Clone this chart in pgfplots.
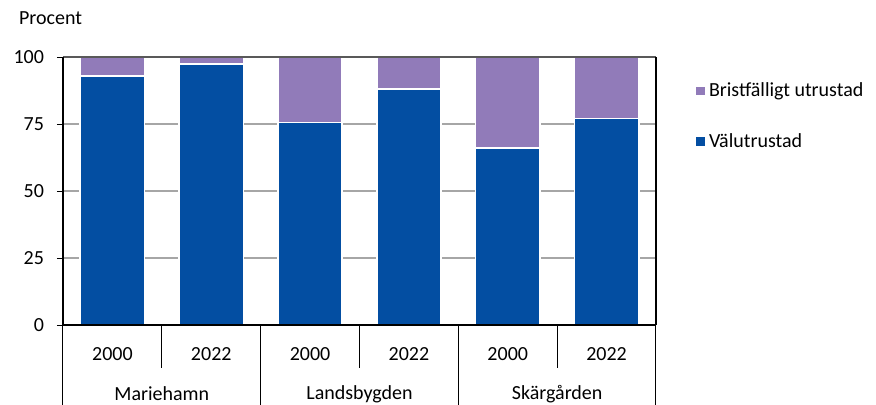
\documentclass[border=0pt]{standalone}
\usepackage{fontspec}
\setmainfont{Carlito}
\usepackage{pgfplots}
\pgfplotsset{compat=1.18}
\definecolor{valu}{HTML}{034EA2}
\definecolor{brist}{HTML}{917BB9}
\definecolor{gridg}{HTML}{A6A6A6}
\definecolor{topg}{HTML}{595959}
\begin{document}
\fontsize{10pt}{12pt}\selectfont
\begin{tikzpicture}
\begin{axis}[
  at={(0,0)}, anchor=south west,
  scale only axis, width=296.5pt, height=134pt,
  ybar stacked, bar width=0.65,
  xmin=-0.5, xmax=5.5, ymin=0, ymax=100,
  xtick={0,1,2,3,4,5},
  xticklabels={2000,2022,2000,2022,2000,2022},
  x tick style={draw=none},
  ytick={0,25,50,75,100}, ytick pos=left,
  ymajorgrids, grid style={gridg, line width=0.6pt},
  y tick style={black, line width=0.5pt},
  tick align=outside, major tick length=3pt,
  axis line style={draw=none},
  clip=false,
  /pgf/number format/assume math mode=true,
  ticklabel style={font=\fontsize{10pt}{12pt}\selectfont},
  xticklabel style={anchor=center, yshift=-11.5pt},
  yticklabel style={anchor=east, xshift=-3pt},
  legend style={at={(1.057,0.936)}, anchor=north west, draw=none, fill=none,
    font=\fontsize{10pt}{12pt}\selectfont, row sep=13pt},
  legend cell align=left,
  reverse legend,
  legend image code/.code={\draw[#1, draw=none] (0pt,-2.2pt) rectangle (4.4pt,2.2pt);},
  after end axis/.code={
    % axis frame
    \draw[topg, line width=0.8pt] (axis cs:-0.5,100) -- (axis cs:5.5,100);
    \draw[black, line width=0.6pt] (axis cs:-0.5,0) -- (axis cs:-0.5,100);
    \draw[black, line width=0.6pt] (axis cs:5.5,0) -- (axis cs:5.5,100);
    \draw[black, line width=0.6pt] (axis cs:-0.5,0) -- (axis cs:5.5,0);
    % category separators
    \draw[black, line width=0.5pt] (axis cs:-0.5,0) -- ([yshift=-45pt]axis cs:-0.5,0);
    \draw[black, line width=0.5pt] (axis cs:1.5,0) -- ([yshift=-45pt]axis cs:1.5,0);
    \draw[black, line width=0.5pt] (axis cs:3.5,0) -- ([yshift=-45pt]axis cs:3.5,0);
    \draw[black, line width=0.5pt] (axis cs:5.5,0) -- ([yshift=-45pt]axis cs:5.5,0);
    \draw[black, line width=0.5pt] (axis cs:0.5,0) -- ([yshift=-21.5pt]axis cs:0.5,0);
    \draw[black, line width=0.5pt] (axis cs:2.5,0) -- ([yshift=-21.5pt]axis cs:2.5,0);
    \draw[black, line width=0.5pt] (axis cs:4.5,0) -- ([yshift=-21.5pt]axis cs:4.5,0);
  },
]
\addplot[fill=valu, draw=white, line width=0.8pt] coordinates {(0,93) (1,97.3) (2,75.5) (3,88) (4,66) (5,77)};
\addlegendentry{Välutrustad}
\addplot[fill=brist, draw=white, line width=0.8pt] coordinates {(0,7) (1,2.7) (2,24.5) (3,12) (4,34) (5,23)};
\addlegendentry{Bristfälligt utrustad}
\node at (axis cs:0.5,0) [yshift=-34.5pt] {Mariehamn};
\node at (axis cs:2.5,0) [yshift=-34.5pt] {Landsbygden};
\node at (axis cs:4.5,0) [yshift=-34.5pt] {Skärgården};
\node at (rel axis cs:0,1) [anchor=west, xshift=-25.5pt, yshift=19.5pt] {Procent};
\end{axis}
\pgfresetboundingbox
\path[use as bounding box] (-31.5pt,-39.5pt) rectangle (406.5pt,162.5pt);
\end{tikzpicture}
\end{document}
